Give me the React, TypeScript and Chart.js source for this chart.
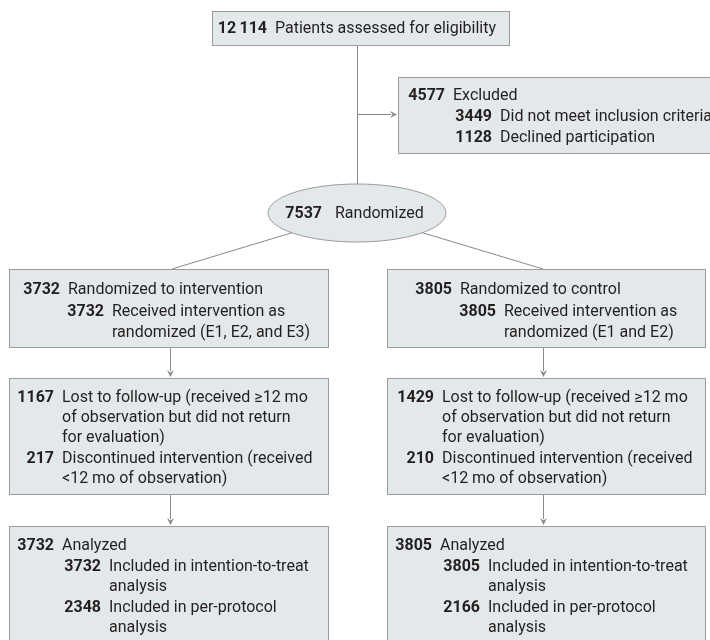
import React, { useEffect, useRef } from "react";
import { Chart, registerables } from "chart.js";
Chart.register(...registerables);

// ---------------- data ----------------
const assessedCount = [12114];
const assessedLabel = ["Patients assessed for eligibility"];
const excludedCounts = [4577, 3449, 1128];
const excludedLabels = ["Excluded", "Did not meet inclusion criteria", "Declined participation"];
const randomizedCount = [7537];
const randomizedLabel = ["Randomized"];
const armNames = ["intervention", "control"];
const armReceivedLabels = ["randomized (E1, E2, and E3)", "randomized (E1 and E2)"];
const allocatedCounts = [3732, 3805];
const receivedCounts = [3732, 3805];
const lostCounts = [1167, 1429];
const discontinuedCounts = [217, 210];
const analyzedCounts = [3732, 3805];
const ittCounts = [3732, 3805];
const perProtocolCounts = [2348, 2166];

// ---------------- styles ----------------
const FONT = "Roboto, 'Liberation Sans', sans-serif";
const FONT_SIZE = 16;
const TEXT_DY = 1;
const TEXT_COLOR = "#231f20";
const BOX_FILL = "#e3e9eb";
const BOX_STROKE = "#9b9b9b";
const LINE_COLOR = "#8a8a8a";

type Line = { num?: number; text: string; numRight?: number; textX: number; y: number };
type Box = { rect: [number, number, number, number]; lines: Line[] };

const fmt = (n: number) => {
  const s = String(n);
  if (s.length <= 4) return s;
  return s.replace(/\B(?=(\d{3})+(?!\d))/g, "\u2009");
};

// ---------------- layout (positions in scale units) ----------------
function buildBoxes(): Box[] {
  const boxes: Box[] = [];
  boxes.push({
    rect: [212, 11, 509, 45],
    lines: [{ num: assessedCount[0], numRight: 267, text: assessedLabel[0], textX: 275, y: 28 }],
  });
  boxes.push({
    rect: [398, 77, 722, 153],
    lines: [
      { num: excludedCounts[0], numRight: 445, text: excludedLabels[0], textX: 453, y: 95 },
      { num: excludedCounts[1], numRight: 492, text: excludedLabels[1], textX: 500, y: 116 },
      { num: excludedCounts[2], numRight: 492, text: excludedLabels[2], textX: 500, y: 137 },
    ],
  });
  const armX = [
    { x0: 9, x1: 328, a0: 68, a1: 112, m0: 62, b0: 62, b1: 109 },
    { x0: 387, x1: 705, a0: 460, a1: 504, m0: 442, b0: 440, b1: 488 },
  ];
  armX.forEach((c, i) => {
    boxes.push({
      rect: [c.x0, 269, c.x1, 347],
      lines: [
        { num: allocatedCounts[i], numRight: c.a0 - 8, text: "Randomized to " + armNames[i], textX: c.a0, y: 289 },
        { num: receivedCounts[i], numRight: c.a1 - 8, text: "Received intervention as", textX: c.a1, y: 311 },
        { text: armReceivedLabels[i], textX: c.a1, y: 332 },
      ],
    });
    boxes.push({
      rect: [c.x0, 378, c.x1, 494],
      lines: [
        { num: lostCounts[i], numRight: c.m0 - 8, text: "Lost to follow-up (received \u226512 mo", textX: c.m0, y: 397 },
        { text: "of observation but did not return", textX: c.m0, y: 417 },
        { text: "for evaluation)", textX: c.m0, y: 437 },
        { num: discontinuedCounts[i], numRight: c.m0 - 8, text: "Discontinued intervention (received", textX: c.m0, y: 458 },
        { text: "<12 mo of observation)", textX: c.m0, y: 478 },
      ],
    });
    boxes.push({
      rect: [c.x0, 526, c.x1, 652],
      lines: [
        { num: analyzedCounts[i], numRight: c.b0 - 8, text: "Analyzed", textX: c.b0, y: 545 },
        { num: ittCounts[i], numRight: c.b1 - 8, text: "Included in intention-to-treat", textX: c.b1, y: 566 },
        { text: "analysis", textX: c.b1, y: 586 },
        { num: perProtocolCounts[i], numRight: c.b1 - 8, text: "Included in per-protocol", textX: c.b1, y: 607 },
        { text: "analysis", textX: c.b1, y: 627 },
      ],
    });
  });
  return boxes;
}

const ELLIPSE = { cx: 357, cy: 213, rx: 89, ry: 29, numRight: 322, textX: 335 };
const SEGMENTS: [number, number, number, number, boolean][] = [
  [357, 45, 357, 186, false],
  [357, 114, 398, 114, true],
  [357, 213, 172, 269, false],
  [357, 213, 543, 269, false],
  [170, 347, 170, 378, true],
  [543, 347, 543, 378, true],
  [170, 494, 170, 526, true],
  [543, 494, 543, 526, true],
];

const flowPlugin = {
  id: "flow",
  afterDraw(chart: any) {
    const ctx: CanvasRenderingContext2D = chart.ctx;
    const xs = chart.scales.x;
    const ys = chart.scales.y;
    const X = (v: number) => xs.getPixelForValue(v);
    const Y = (v: number) => ys.getPixelForValue(v);
    const crisp = (v: number) => Math.round(v) + 0.5;
    ctx.save();
    ctx.fillStyle = "#ffffff";
    ctx.fillRect(0, 0, chart.width, chart.height);

    // connectors
    ctx.strokeStyle = LINE_COLOR;
    ctx.fillStyle = LINE_COLOR;
    ctx.lineWidth = 1;
    SEGMENTS.forEach(([x0, y0, x1, y1, arrow]) => {
      let px0 = X(x0), py0 = Y(y0), px1 = X(x1), py1 = Y(y1);
      if (px0 === px1) { px0 = px1 = crisp(px0); }
      if (py0 === py1) { py0 = py1 = crisp(py0); }
      const ang = Math.atan2(py1 - py0, px1 - px0);
      const al = 8, aw = 3.5;
      const ex = arrow ? px1 - Math.cos(ang) * (al - 1) : px1;
      const ey = arrow ? py1 - Math.sin(ang) * (al - 1) : py1;
      ctx.beginPath();
      ctx.moveTo(px0, py0);
      ctx.lineTo(ex, ey);
      ctx.stroke();
      if (arrow) {
        const tx = px1 - Math.cos(ang) * 1, ty = py1 - Math.sin(ang) * 1;
        const bx = px1 - Math.cos(ang) * al, by = py1 - Math.sin(ang) * al;
        ctx.beginPath();
        ctx.moveTo(tx, ty);
        ctx.lineTo(bx - Math.sin(ang) * aw, by + Math.cos(ang) * aw);
        ctx.lineTo(bx + Math.cos(ang) * 2.5, by + Math.sin(ang) * 2.5);
        ctx.lineTo(bx + Math.sin(ang) * aw, by - Math.cos(ang) * aw);
        ctx.closePath();
        ctx.fill();
      }
    });

    const drawLine = (l: Line) => {
      ctx.fillStyle = TEXT_COLOR;
      ctx.textBaseline = "middle";
      const ty = Y(l.y) + TEXT_DY;
      if (l.num !== undefined && l.numRight !== undefined) {
        ctx.font = `bold ${FONT_SIZE}px ${FONT}`;
        ctx.textAlign = "right";
        ctx.fillText(fmt(l.num), X(l.numRight), ty);
      }
      ctx.font = `${FONT_SIZE}px ${FONT}`;
      ctx.textAlign = "left";
      ctx.fillText(l.text, X(l.textX), ty);
    };

    // boxes
    buildBoxes().forEach((b) => {
      const [x0, y0, x1, y1] = b.rect;
      const px0 = crisp(X(x0)), py0 = crisp(Y(y0)), px1 = crisp(X(x1)), py1 = crisp(Y(y1));
      ctx.fillStyle = BOX_FILL;
      ctx.fillRect(px0, py0, px1 - px0, py1 - py0);
      ctx.strokeStyle = BOX_STROKE;
      ctx.lineWidth = 1;
      ctx.strokeRect(px0, py0, px1 - px0, py1 - py0);
      b.lines.forEach(drawLine);
    });

    // ellipse
    const e = ELLIPSE;
    const ecx = X(e.cx), ecy = Y(e.cy);
    const erx = X(e.cx + e.rx) - ecx, ery = Y(e.cy + e.ry) - ecy;
    ctx.beginPath();
    ctx.ellipse(ecx, ecy, Math.abs(erx), Math.abs(ery), 0, 0, Math.PI * 2);
    ctx.fillStyle = BOX_FILL;
    ctx.fill();
    ctx.strokeStyle = BOX_STROKE;
    ctx.stroke();
    drawLine({ num: randomizedCount[0], numRight: e.numRight, text: randomizedLabel[0], textX: e.textX, y: e.cy });
    ctx.restore();
  },
};

export default function App() {
  const ref = useRef<HTMLCanvasElement | null>(null);
  useEffect(() => {
    let chart: Chart | null = null;
    let cancelled = false;
    const make = () => {
      if (cancelled || !ref.current) return;
      chart = new Chart(ref.current, {
        type: "scatter",
        data: { datasets: [{ data: [], pointRadius: 0 }] },
        options: {
          animation: false,
          responsive: false,
          devicePixelRatio: 1,
          layout: { padding: 0 },
          plugins: { legend: { display: false }, tooltip: { enabled: false } },
          scales: {
            x: { type: "linear", min: 0, max: 710, display: false },
            y: { type: "linear", min: 0, max: 640, reverse: true, display: false },
          },
        },
        plugins: [flowPlugin],
      });
    };
    const fonts: any = (document as any).fonts;
    if (fonts && fonts.load) {
      Promise.all([fonts.load(`${FONT_SIZE}px Roboto`), fonts.load(`bold ${FONT_SIZE}px Roboto`)])
        .catch(() => null)
        .then(make);
    } else make();
    return () => {
      cancelled = true;
      if (chart) chart.destroy();
    };
  }, []);
  return (
    <div style={{ position: "absolute", left: 0, top: 0, width: 710, height: 640 }}>
      <canvas ref={ref} width={710} height={640} style={{ display: "block" }} />
    </div>
  );
}
